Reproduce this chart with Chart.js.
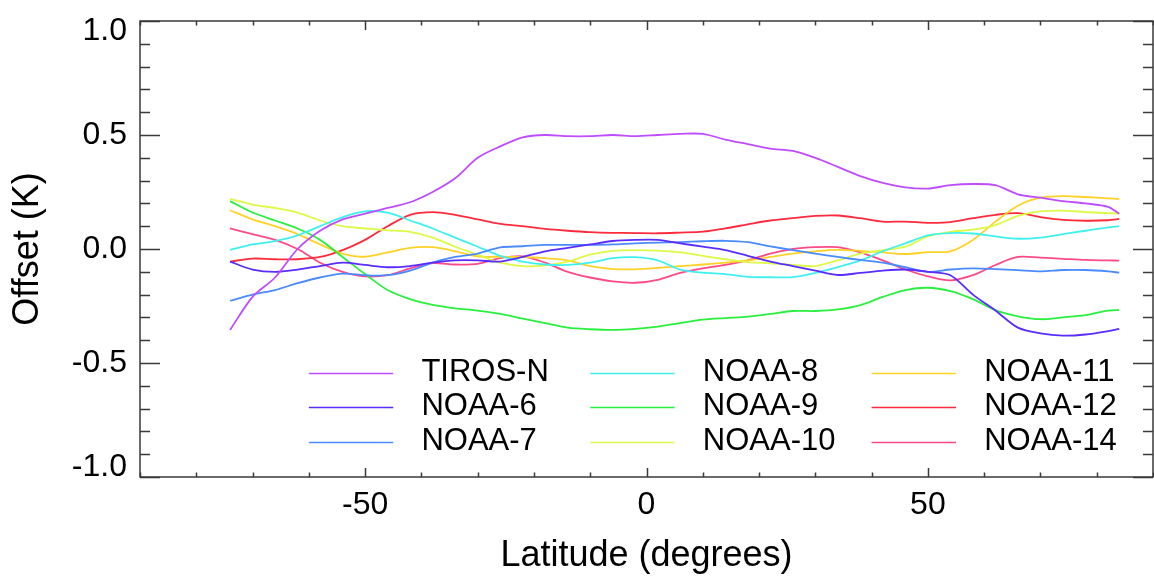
<!DOCTYPE html>
<html>
<head>
<meta charset="utf-8">
<script src="https://cdn.jsdelivr.net/npm/chart.js@4/dist/chart.umd.min.js"></script>
<style>
  html, body { margin: 0; padding: 0; background: #ffffff; }
  #wrap { width: 1154px; height: 582px; position: relative; }
</style>
</head>
<body>
<div id="wrap"><canvas id="c" width="1154" height="582"></canvas></div>
<script>
// ---------------- data ----------------
const latitudes = [-74, -70, -66, -62, -58, -54, -50, -46, -42, -38, -34, -30, -26, -22, -18, -14, -10, -6, -2, 2,
                   6, 10, 14, 18, 22, 26, 30, 34, 38, 42, 46, 50, 54, 58, 62, 66, 70, 74, 78, 82, 84];

const tirosN = [-0.355, -0.21, -0.125, 0.0, 0.08, 0.13, 0.155, 0.18, 0.205, 0.25, 0.31, 0.40, 0.45, 0.49, 0.50, 0.495,
                0.495, 0.50, 0.495, 0.50, 0.505, 0.505, 0.48, 0.46, 0.44, 0.43, 0.40, 0.36, 0.32, 0.29, 0.27, 0.265,
                0.28, 0.285, 0.28, 0.24, 0.225, 0.21, 0.20, 0.185, 0.155];
const noaa6 = [-0.055, -0.09, -0.10, -0.09, -0.075, -0.06, -0.07, -0.08, -0.075, -0.06, -0.05, -0.05, -0.055, -0.035,
               -0.01, 0.005, 0.02, 0.035, 0.04, 0.04, 0.025, 0.01, -0.005, -0.03, -0.055, -0.075, -0.095, -0.114,
               -0.105, -0.095, -0.09, -0.10, -0.115, -0.20, -0.27, -0.345, -0.37, -0.38, -0.375, -0.36, -0.35];
const noaa7 = [-0.227, -0.20, -0.18, -0.15, -0.125, -0.108, -0.115, -0.115, -0.095, -0.06, -0.035, -0.02, 0.007, 0.012,
               0.018, 0.018, 0.018, 0.02, 0.025, 0.028, 0.03, 0.034, 0.036, 0.03, 0.012, -0.005, -0.02, -0.035,
               -0.048, -0.06, -0.08, -0.10, -0.09, -0.085, -0.088, -0.093, -0.098, -0.092, -0.092, -0.098, -0.104];
const noaa8 = [-0.004, 0.02, 0.035, 0.06, 0.10, 0.14, 0.165, 0.16, 0.125, 0.09, 0.05, 0.01, -0.03, -0.055, -0.068,
               -0.07, -0.06, -0.04, -0.036, -0.05, -0.09, -0.104, -0.11, -0.122, -0.124, -0.123, -0.105, -0.08,
               -0.05, -0.01, 0.025, 0.06, 0.07, 0.068, 0.055, 0.045, 0.05, 0.065, 0.08, 0.095, 0.10];
const noaa9 = [0.21, 0.16, 0.125, 0.09, 0.04, -0.035, -0.11, -0.18, -0.22, -0.245, -0.26, -0.27, -0.285, -0.305,
               -0.325, -0.345, -0.352, -0.355, -0.35, -0.34, -0.325, -0.31, -0.303, -0.297, -0.285, -0.272, -0.272,
               -0.265, -0.246, -0.21, -0.18, -0.17, -0.185, -0.22, -0.268, -0.295, -0.308, -0.30, -0.29, -0.27, -0.268];
const noaa10 = [0.22, 0.195, 0.18, 0.16, 0.125, 0.10, 0.09, 0.082, 0.075, 0.05, 0.01, -0.025, -0.06, -0.075, -0.072,
                -0.055, -0.025, -0.008, -0.005, -0.007, -0.015, -0.03, -0.045, -0.058, -0.063, -0.07, -0.075, -0.05,
                -0.02, -0.005, 0.01, 0.055, 0.075, 0.085, 0.105, 0.145, 0.165, 0.168, 0.162, 0.157, 0.157];
const noaa11 = [0.17, 0.13, 0.10, 0.065, 0.02, -0.02, -0.034, -0.015, 0.005, 0.008, -0.01, -0.032, -0.034, -0.035,
                -0.04, -0.05, -0.075, -0.088, -0.089, -0.083, -0.075, -0.068, -0.06, -0.05, -0.035, -0.02, -0.01,
                -0.004, -0.008, -0.015, -0.022, -0.014, -0.01, 0.04, 0.12, 0.19, 0.225, 0.232, 0.228, 0.222, 0.219];
const noaa12 = [-0.055, -0.042, -0.045, -0.045, -0.035, -0.005, 0.04, 0.10, 0.15, 0.162, 0.15, 0.13, 0.11, 0.10,
                0.088, 0.08, 0.074, 0.071, 0.07, 0.069, 0.072, 0.076, 0.09, 0.108, 0.125, 0.135, 0.145, 0.147, 0.135,
                0.12, 0.12, 0.115, 0.118, 0.135, 0.15, 0.157, 0.14, 0.128, 0.124, 0.126, 0.132];
const noaa14 = [0.09, 0.065, 0.04, 0.0, -0.06, -0.10, -0.12, -0.115, -0.085, -0.062, -0.068, -0.065, -0.04, -0.032,
                -0.06, -0.10, -0.125, -0.142, -0.148, -0.135, -0.105, -0.085, -0.07, -0.05, -0.02, 0.0, 0.008, 0.008,
                -0.015, -0.05, -0.09, -0.12, -0.138, -0.115, -0.07, -0.035, -0.038, -0.043, -0.048, -0.05, -0.051];

const seriesNames = ['TIROS-N', 'NOAA-6', 'NOAA-7', 'NOAA-8', 'NOAA-9', 'NOAA-10', 'NOAA-11', 'NOAA-12', 'NOAA-14'];
const seriesValues = [tirosN, noaa6, noaa7, noaa8, noaa9, noaa10, noaa11, noaa12, noaa14];
const seriesColors = ['#bf4cff', '#5a2cff', '#4a8cff', '#40f0f0', '#28f03c', '#dcfa46', '#ffd228', '#ff2a3c', '#ff4a8a'];

const xTickValues = [-50, 0, 50];
const yTickValues = [-1.0, -0.5, 0.0, 0.5, 1.0];
const xTitle = 'Latitude (degrees)';
const yTitle = 'Offset (K)';

// ---------------- chart ----------------
const FONT = '"Liberation Sans", Arial, Helvetica, sans-serif';
const FRAME = '#3a3a3a';

const datasets = seriesNames.map((name, i) => ({
  label: name,
  data: latitudes.map((lat, k) => ({ x: lat, y: seriesValues[i][k] })),
  borderColor: seriesColors[i],
  backgroundColor: seriesColors[i],
  borderWidth: 1.8,
  pointRadius: 0,
  tension: 0.3,
  fill: false
}));

const framePlugin = {
  id: 'frameTicks',
  afterDatasetsDraw(chart) {
    const { ctx, chartArea: a, scales: { x, y } } = chart;
    ctx.save();
    ctx.strokeStyle = FRAME;
    ctx.lineWidth = 1.5;
    ctx.strokeRect(a.left, a.top, a.right - a.left, a.bottom - a.top);
    ctx.beginPath();
    for (let k = -10; k <= 10; k++) {
      const v = k / 10;
      const py = Math.round(y.getPixelForValue(v)) + 0.5;
      const major = (k % 5 === 0);
      const len = major ? 20 : 10;
      ctx.moveTo(a.left, py); ctx.lineTo(a.left + len, py);
      ctx.moveTo(a.right, py); ctx.lineTo(a.right - len, py);
    }
    for (let v = -90; v <= 90; v += 10) {
      const px = Math.round(x.getPixelForValue(v)) + 0.5;
      const major = (v % 50 === 0);
      const len = major ? 9 : 4.5;
      ctx.moveTo(px, a.bottom); ctx.lineTo(px, a.bottom - len);
      ctx.moveTo(px, a.top); ctx.lineTo(px, a.top + len);
    }
    ctx.stroke();
    ctx.restore();
  }
};

const legendPlugin = {
  id: 'gridLegend',
  afterDatasetsDraw(chart) {
    const { ctx, scales: { x, y } } = chart;
    ctx.save();
    ctx.font = '31px ' + FONT;
    ctx.textBaseline = 'middle';
    ctx.textAlign = 'left';
    chart.data.datasets.forEach((ds, i) => {
      const col = Math.floor(i / 3), row = i % 3;
      const x0 = x.getPixelForValue(-60 + col * 50);
      const x1 = x.getPixelForValue(-45 + col * 50);
      const tx = x.getPixelForValue(-40 + col * 50);
      const py = Math.round(y.getPixelForValue(-0.545 - row * 0.15)) + 0.5;
      ctx.strokeStyle = ds.borderColor;
      ctx.lineWidth = 1.6;
      ctx.beginPath(); ctx.moveTo(x0, py); ctx.lineTo(x1, py); ctx.stroke();
      ctx.fillStyle = '#000';
      ctx.fillText(ds.label, tx, py - 1);
    });
    ctx.restore();
  }
};

new Chart(document.getElementById('c'), {
  type: 'line',
  data: { datasets },
  options: {
    responsive: false,
    animation: false,
    devicePixelRatio: 1,
    layout: { padding: { top: 21, right: 1, left: 0, bottom: 0 } },
    plugins: { legend: { display: false }, tooltip: { enabled: false } },
    scales: {
      x: {
        type: 'linear',
        min: -90, max: 90,
        afterBuildTicks: s => { s.ticks = xTickValues.map(v => ({ value: v })); },
        afterFit: s => { s.height = 105; s.paddingLeft = 0; s.paddingRight = 0; },
        grid: { display: false, drawTicks: false, tickLength: 0 },
        border: { display: false },
        ticks: {
          color: '#000', padding: 9, maxRotation: 0,
          font: { family: FONT, size: 32 },
          callback: v => String(v)
        },
        title: {
          display: true, text: xTitle, color: '#000',
          font: { family: FONT, size: 36 },
          padding: { top: 0, bottom: 4 }
        }
      },
      y: {
        type: 'linear',
        min: -1, max: 1,
        afterBuildTicks: s => { s.ticks = yTickValues.map(v => ({ value: v })); },
        afterFit: s => { s.width = 140; s.paddingTop = 0; s.paddingBottom = 0; },
        grid: { display: false, drawTicks: false, tickLength: 0 },
        border: { display: false },
        ticks: {
          color: '#000', padding: 13,
          font: c => ({ family: FONT, size: 32,
                        lineHeight: (c.tick && Math.abs(c.tick.value) === 1) ? '20px' : 1.2 }),
          callback: v => {
            const s = Number(v).toFixed(1);
            if (v === 1) return ['', s];
            if (v === -1) return [s, ''];
            return s;
          }
        },
        title: {
          display: true, text: yTitle, color: '#000',
          font: { family: FONT, size: 36 },
          padding: { top: 6, bottom: 0 }
        }
      }
    }
  },
  plugins: [framePlugin, legendPlugin]
});
</script>
</body>
</html>
